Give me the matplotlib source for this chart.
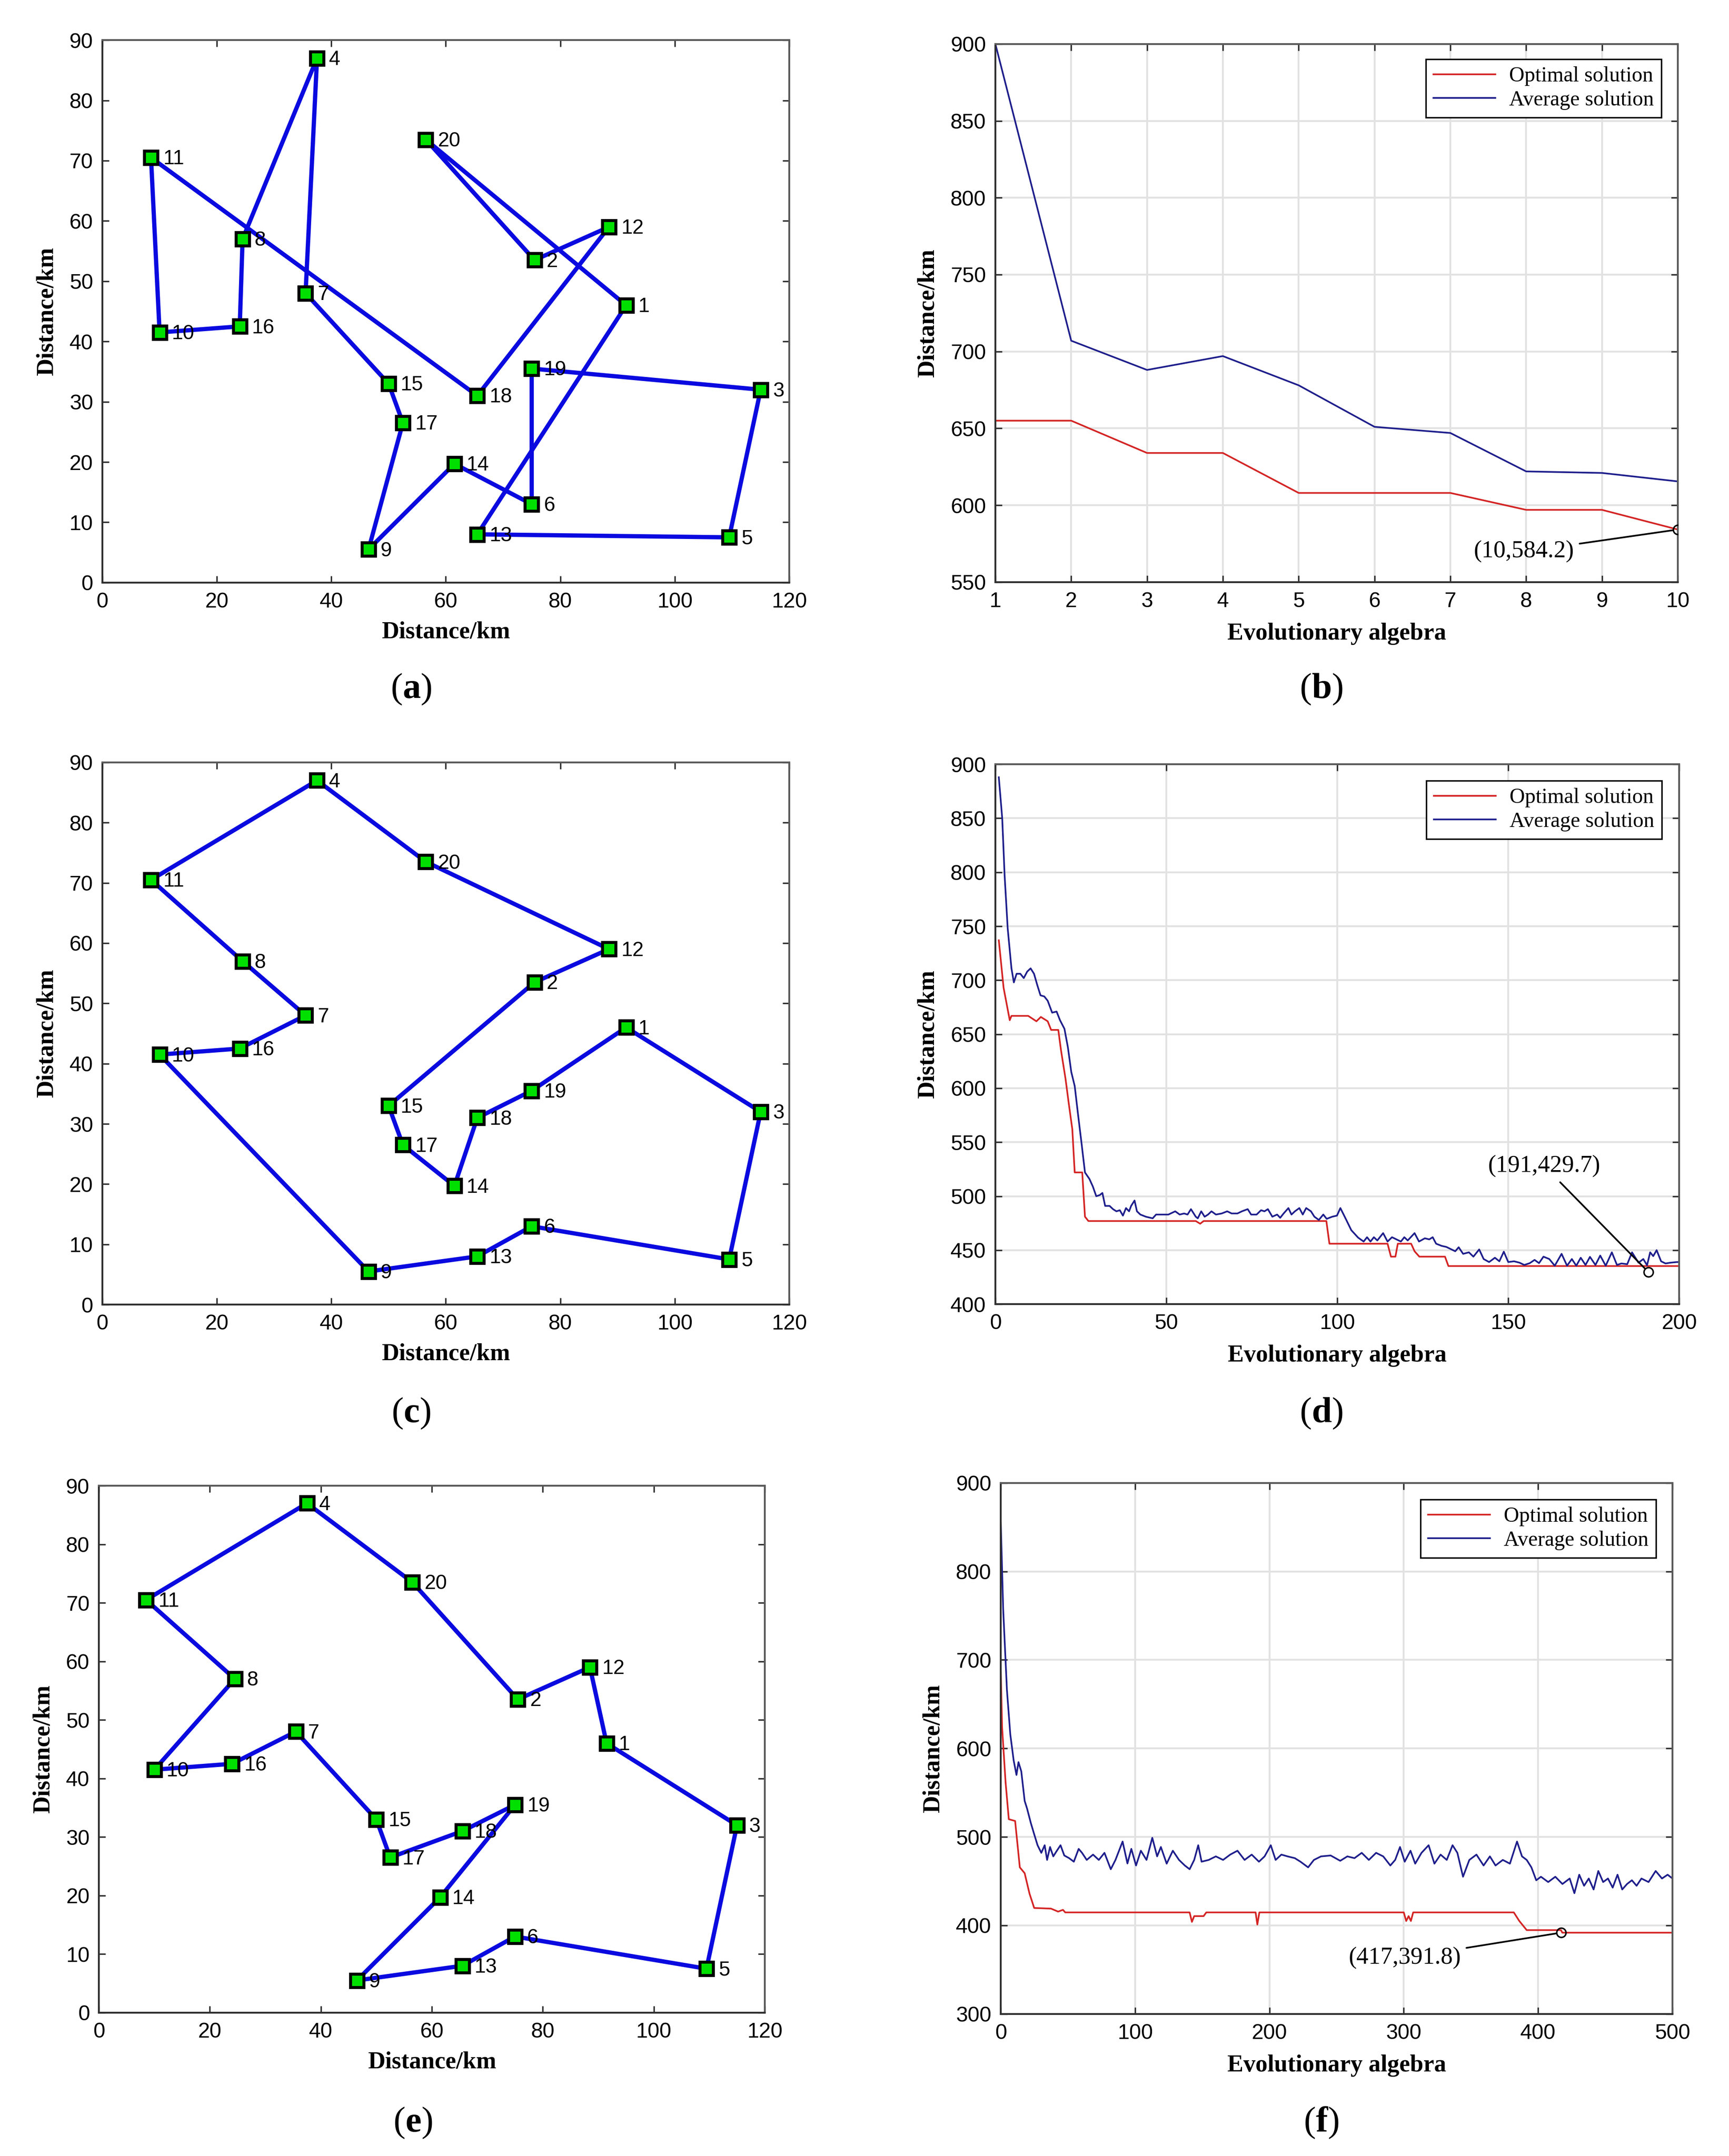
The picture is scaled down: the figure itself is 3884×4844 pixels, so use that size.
import matplotlib
matplotlib.use("Agg")
import matplotlib.pyplot as plt

# ---- city coordinates (km), city i is index i-1 ----
CITY_X = [91.5, 75.5, 115.0, 37.5, 109.5, 75.0, 35.5, 24.5, 46.5, 10.0,
          8.5, 88.5, 65.5, 61.5, 50.0, 24.0, 52.5, 65.5, 75.0, 56.5]
CITY_Y = [46.0, 53.5, 32.0, 87.0, 7.5, 13.0, 48.0, 57.0, 5.5, 41.5,
          70.5, 59.0, 8.0, 19.7, 33.0, 42.5, 26.5, 31.0, 35.5, 73.5]

# ---- tours ----
TOUR_A = [20, 2, 12, 18, 11, 10, 16, 8, 4, 7, 15, 17, 9, 14, 6, 19, 3, 5, 13, 1]
TOUR_C = [4, 20, 12, 2, 15, 17, 14, 18, 19, 1, 3, 5, 6, 13, 9, 10, 16, 7, 8, 11]
TOUR_E = [4, 20, 2, 12, 1, 3, 5, 6, 13, 9, 14, 19, 18, 17, 15, 7, 16, 10, 8, 11]

# ---- convergence (b): 10 generations ----
GEN_B = [1, 2, 3, 4, 5, 6, 7, 8, 9, 10]
OPT_B = [655, 655, 634, 634, 608, 608, 608, 597, 597, 584.2]
AVG_B = [900, 707, 688, 697, 678, 651, 647, 622, 621, 615.5]

# ---- convergence (d): 200 generations ----
OPT_D_X = [1, 2.4, 4.2, 4.7, 9.6, 12, 13.3, 15.3, 16.3, 18.4, 19.2, 20.5, 21.5,
           22.5, 23.2, 25.4, 26.2, 27.2, 58.6, 59.9, 60.9, 96.8, 97.7, 114.7,
           115.7, 117, 117.7, 121.6, 122.6, 124, 131.5, 132.5, 200]
OPT_D_Y = [737, 693, 663, 667, 667, 662, 666, 662, 654, 654, 635, 609, 585,
           562, 522, 522, 481, 477, 477, 474.5, 477, 477, 456, 456,
           444, 444, 456, 456, 449, 444, 444, 435.3, 435.3]
AVG_D_X = [1, 2.0, 2.7, 3.6, 4.7, 5.4, 6.2, 7.3, 8.3, 9.3, 10.3, 11.3, 12.3,
           13.2, 14.3, 15.3, 16.6, 17.9, 18.9, 20.2, 21.2, 22.2, 23.2, 24.2,
           25.2, 26.2, 27.5, 28.5, 29.5, 30.5, 31.3, 32.1, 33.4, 34.4, 35.4,
           36.4, 37.3, 38.2, 39.1, 39.7, 40.7, 41.4, 42.4, 44.0, 46.0, 47.0,
           48.6, 50.6, 52.6, 53.9, 55.2, 56.2, 57.2, 58.6, 59.2, 60.2, 61.2,
           62.2, 63.2, 64.5, 66.2, 67.8, 69.1, 70.8, 72.1, 73.8, 74.8, 76.4,
           77.7, 78.7, 79.7, 81.0, 82.4, 83.3, 84.3, 85.7, 86.6, 87.6, 88.9,
           89.9, 90.9, 92.3, 93.3, 94.6, 95.9, 96.9, 98.5, 99.9, 100.9, 102.4,
           104.1, 106.1, 107.7, 108.7, 109.7, 110.7, 111.7, 113.4, 114.7,
           116.0, 117.3, 118.6, 119.6, 120.6, 122.6, 123.9, 125.6, 126.9,
           127.9, 128.9, 130.5, 131.9, 133.2, 134.5, 135.5, 136.8, 138.5,
           139.8, 141.5, 142.8, 144.4, 146.1, 147.4, 148.7, 150.0, 151.7,
           153.3, 154.7, 156.3, 157.7, 159.0, 160.3, 162.0, 163.6, 165.6,
           167.2, 168.6, 169.9, 171.2, 172.6, 173.9, 175.5, 176.9, 178.5,
           180.3, 181.8, 183.1, 184.8, 186.2, 188.1, 189.5, 190.6, 191.5,
           192.4, 193.4, 194.7, 196.0, 197.4, 199.3, 200]
AVG_D_Y = [888, 850, 797, 748, 711, 698, 706, 706, 702, 708, 711, 706, 695,
           686, 685, 681, 670, 671, 663, 655, 638, 615, 602, 575,
           549, 522, 516, 509, 500, 501, 503, 491, 491, 488, 486,
           487, 482, 489, 486, 491, 496, 486, 483, 481, 479.5, 483,
           483, 483, 486, 483, 484, 483, 488, 481, 479.5, 486, 481,
           483, 486, 483, 484, 486, 484, 484, 486, 488, 483, 483,
           487, 486, 488, 481, 483, 480, 484, 489, 483, 486, 489,
           483, 489, 486, 481, 478, 483, 479, 481, 482, 489, 479.5,
           468.5, 461.6, 458, 462, 458, 462, 459, 465.8, 458,
           462, 460, 458, 462, 459, 465.8, 458, 461, 460,
           462, 456, 454, 453, 451, 449, 452.7, 446.6, 448,
           444, 450.7, 441.8, 439, 443, 439.7, 448.6, 439, 439.7,
           438.4, 436.3, 438, 441, 438, 444, 441.8, 435.6, 446.6,
           435.6, 441.8, 435.6, 443, 436.3, 443.8, 436.3, 445, 435.6,
           448, 436.3, 437.7, 437, 448, 438.4, 441.8, 436, 448,
           444.5, 450, 439.7, 437.7, 438.4, 439, 439]

# ---- convergence (f): 500 generations ----
OPT_F_X = [0, 1, 3.6, 6, 10.7, 14.2, 17.8, 21.4, 24.9, 37.4, 42.7, 46.3, 48,
           140.6, 142.3, 144, 151, 153, 189.7, 191, 192.5, 300, 301.8, 303.6,
           305.3, 307, 381.9, 386, 391.5, 417, 418, 500]
OPT_F_Y = [691, 624, 561.6, 520, 518, 465.6, 459, 436, 419.7, 419, 415.6,
           417.6, 414.7, 414.7, 404, 410.5, 410.5, 414.7, 414.7, 401, 414.7,
           414.7, 405, 410.5, 405, 414.7, 414.7, 405, 394.7, 394.7, 391.8,
           391.8]
AVG_F_X = [0, 1.8, 4.6, 7.1, 9.6, 11.7, 13.2, 15.3, 17.8, 19.6, 22.4, 24.9,
           27.4, 30.2, 32.7, 34.5, 36.7, 39.1, 41.6, 44.5, 47.3, 50.9, 54.4,
           58, 60.5, 64, 68.7, 73, 77.2, 81.9, 85.4, 90.7, 94.3, 97.2, 100.7,
           104.3, 108.5, 112.8, 116.4, 119.2, 123.5, 128.1, 132.7, 137, 140.6,
           144, 147, 149.5, 154.8, 160.1, 165.5, 170.8, 176.2, 181.5, 186.8,
           192.2, 196.4, 201, 204.6, 208.9, 213.5, 218.9, 223.1, 228.8, 233.1,
           238.4, 245.6, 252.7, 258, 263.3, 268.7, 274, 279.4, 284.7, 290,
           293.6, 297.2, 300.7, 305, 308.5, 313.2, 318.5, 322.8, 327.4, 332,
           336.3, 339.9, 344.1, 348.8, 354.1, 359.4, 364.1, 368.3, 373.7, 379,
           384.3, 388, 391.5, 395, 398.6, 402.1, 407.5, 412.8, 418.1, 423.5,
           427, 430.6, 434.2, 437.7, 441.3, 444.8, 448.4, 452, 455.5, 459.1,
           462.6, 466.2, 469.8, 473.3, 476.9, 482.2, 487.5, 492.2, 496.4, 500]
AVG_F_Y = [858, 757.7, 666, 616, 586.6, 570, 584.5, 574, 540.7, 532, 515.7,
           503, 490.6, 482, 490.6, 474, 488.6, 478, 484, 490.6, 479, 476, 472,
           486.5, 482, 474, 480, 474, 482, 463.5, 474, 494.8, 470, 486.5,
           467.7, 484.4, 474, 499, 478, 488.6, 469.8, 484.4, 474, 467.7, 463.5,
           474, 490.6, 472, 474, 478, 474, 480, 484.4, 474, 480,
           472, 478, 490.6, 474, 480, 478, 476, 472, 465.6, 474,
           478, 479, 473, 478, 476, 482, 474, 482, 478, 467.7,
           474, 488.6, 472, 484.4, 469.8, 482, 490.6, 469.8, 480, 474,
           490.6, 482, 455, 474, 480, 467.7, 478, 467.7, 474, 469.8,
           494.8, 478, 474, 465.6, 451, 455, 449, 455, 446.8, 453,
           436.4, 457.3, 444.8, 453, 440.6, 461.5, 449, 453, 442.7, 457.3,
           440.6, 446.8, 451, 444.8, 453, 449, 461.5, 453, 457.3, 453]

ROUTE_BLUE = "#0a0ae0"
NODE_GREEN = "#00e000"
OPT_RED = "#d42424"
AVG_BLUE = "#1e1e8c"
SANS = "Liberation Sans"
SERIF = "Liberation Serif"

plt.rcParams["mathtext.fontset"] = "custom"
plt.rcParams["mathtext.rm"] = SERIF
plt.rcParams["mathtext.bf"] = SERIF + ":bold"


def style_axes(ax):
    for side in ["left", "bottom"]:
        ax.spines[side].set_color("#303030")
        ax.spines[side].set_linewidth(1.0)
    for side in ["top", "right"]:
        ax.spines[side].set_color("#5a5a5a")
        ax.spines[side].set_linewidth(1.0)
    ax.tick_params(direction="in", top=True, right=True, length=3.5,
                   width=0.8, pad=5, labelsize=11.5, colors="#303030",
                   labelcolor="black")
    for lab in ax.get_xticklabels() + ax.get_yticklabels():
        lab.set_fontfamily(SANS)


def draw_route(ax, tour):
    xs = [CITY_X[c - 1] for c in tour] + [CITY_X[tour[0] - 1]]
    ys = [CITY_Y[c - 1] for c in tour] + [CITY_Y[tour[0] - 1]]
    ax.plot(xs, ys, color=ROUTE_BLUE, lw=2.3, zorder=2)
    ax.plot(CITY_X, CITY_Y, ls="none", marker="s", ms=7, mfc=NODE_GREEN,
            mec="black", mew=1.6, zorder=3)
    for i, (x, y) in enumerate(zip(CITY_X, CITY_Y)):
        ax.annotate(str(i + 1), (x, y), xytext=(6.5, -0.8),
                    textcoords="offset points", ha="left", va="center",
                    fontsize=11, fontfamily=SANS, zorder=4)
    ax.set_xlim(0, 120)
    ax.set_ylim(0, 90)
    ax.set_xticks(range(0, 121, 20))
    ax.set_yticks(range(0, 91, 10))
    ax.set_xlabel("Distance/km", fontfamily=SERIF, fontweight="bold",
                  fontsize=13, labelpad=5)
    ax.set_ylabel("Distance/km", fontfamily=SERIF, fontweight="bold",
                  fontsize=13, labelpad=6)
    style_axes(ax)


def draw_curve(ax, ox, oy, axx, ay, xlim, ylim, xticks, yticks, mark, text_xy,
               anchor):
    ax.grid(True, color="#e2e2e2", lw=1.0, zorder=0)
    ax.set_axisbelow(True)
    ax.plot(ox, oy, color=OPT_RED, lw=0.9, label="Optimal solution", zorder=2)
    ax.plot(axx, ay, color=AVG_BLUE, lw=0.9, label="Average solution",
            zorder=2)
    ax.plot(mark[0], mark[1], ls="none", marker="o", ms=5, mfc="none",
            mec="black", mew=0.8, zorder=3)
    ax.annotate("(%s,%s)" % (mark[0], mark[1]), xy=mark, xytext=text_xy,
                ha="center", va="center", fontsize=13, fontfamily=SERIF,
                arrowprops=dict(arrowstyle="-", color="black", lw=0.9,
                                shrinkA=1, shrinkB=2.5))
    ax.set_xlim(*xlim)
    ax.set_ylim(*ylim)
    ax.set_xticks(xticks)
    ax.set_yticks(yticks)
    ax.set_xlabel("Evolutionary algebra", fontfamily=SERIF,
                  fontweight="bold", fontsize=13, labelpad=6)
    ax.set_ylabel("Distance/km", fontfamily=SERIF, fontweight="bold",
                  fontsize=13, labelpad=6)
    leg = ax.legend(loc="upper right", bbox_to_anchor=anchor,
                    borderaxespad=0, fancybox=False, framealpha=1,
                    edgecolor="black", handlelength=2.9, handletextpad=0.65,
                    labelspacing=0.2, borderpad=0.35,
                    prop={"family": SERIF, "size": 11.5})
    leg.get_frame().set_linewidth(0.8)
    style_axes(ax)


fig = plt.figure(figsize=(3884 / 300, 4844 / 300), dpi=300)

ax_a = fig.add_axes([0.0592, 0.7298, 0.3973, 0.2516])
ax_b = fig.add_axes([0.5757, 0.7300, 0.3947, 0.2496])
ax_c = fig.add_axes([0.0592, 0.3949, 0.3973, 0.2515])
ax_d = fig.add_axes([0.5757, 0.3951, 0.3955, 0.2504])
ax_e = fig.add_axes([0.0572, 0.0665, 0.3851, 0.2444])
ax_f = fig.add_axes([0.5788, 0.0659, 0.3885, 0.2463])

draw_route(ax_a, TOUR_A)
draw_route(ax_c, TOUR_C)
draw_route(ax_e, TOUR_E)

draw_curve(ax_b, GEN_B, OPT_B, GEN_B, AVG_B, (1, 10), (550, 900),
           range(1, 11), range(550, 901, 50), (10, 584.2), (7.97, 569.8),
           (0.976, 0.972))
draw_curve(ax_d, OPT_D_X, OPT_D_Y, AVG_D_X, AVG_D_Y, (0, 200), (400, 900),
           range(0, 201, 50), range(400, 901, 50), (191, 429.7),
           (160.5, 528), (0.9746, 0.970))
draw_curve(ax_f, OPT_F_X, OPT_F_Y, AVG_F_X, AVG_F_Y, (0, 500), (300, 900),
           range(0, 501, 100), range(300, 901, 100), (417, 391.8),
           (300.7, 363.4), (0.9755, 0.969))

captions = [("a", 0.2377, 0.6805), ("b", 0.764, 0.6805),
            ("c", 0.2377, 0.3445), ("d", 0.764, 0.3445),
            ("e", 0.2387, 0.0155), ("f", 0.764, 0.0155)]
for letter, cx, cy in captions:
    fig.text(cx, cy, r"$\mathrm{(}\mathbf{%s}\mathrm{)}$" % letter,
             ha="center", va="center", fontsize=19.5)

fig.savefig("out.png", dpi=300, facecolor="white")
